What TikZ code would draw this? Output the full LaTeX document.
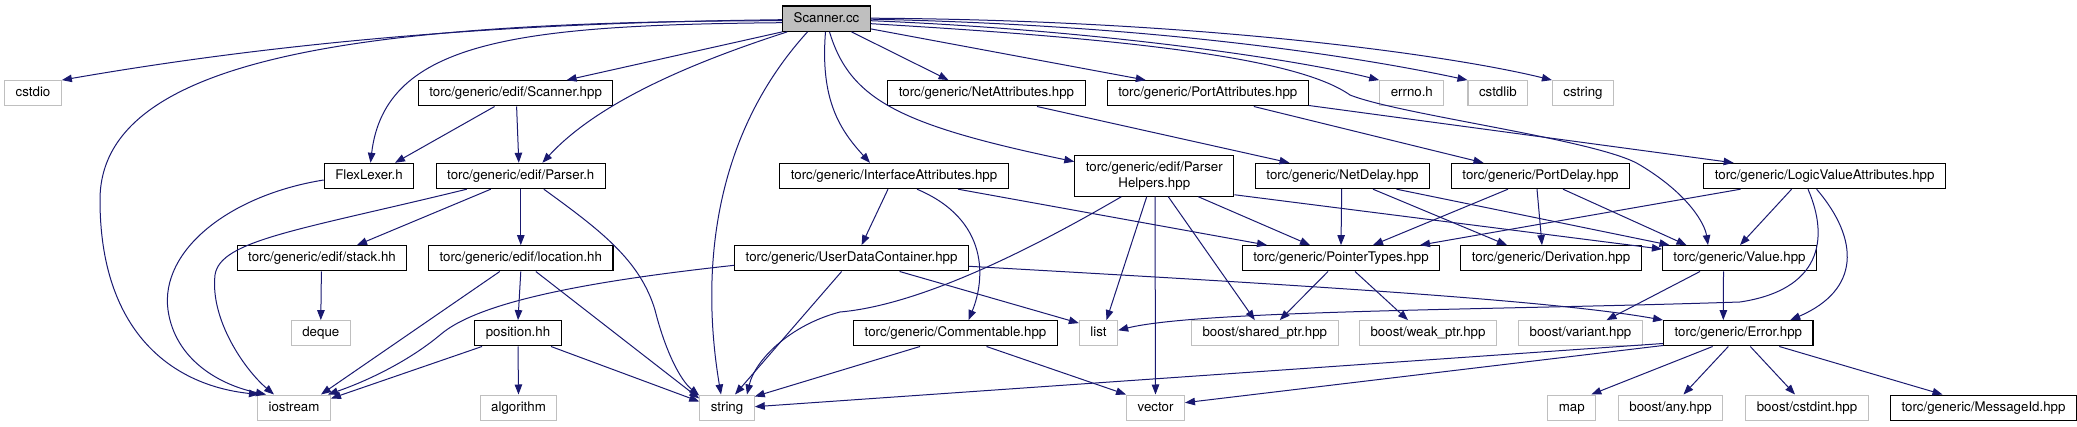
\documentclass[tikz,border=0pt]{standalone}
\usepackage{fontspec}
\setmainfont{TeX Gyre Heros}
\usetikzlibrary{arrows.meta}
\definecolor{incblue}{HTML}{191970}
\definecolor{sysgray}{HTML}{BFBFBF}

\begin{document}
\begin{tikzpicture}[
x=1pt, y=-1pt,
base/.style={line width=1.1pt, inner xsep=11pt, font=\fontsize{13.3}{16}\selectfont},
box/.style={base, draw=black, minimum height=25.3pt, inner ysep=0pt, text height=9.6pt, text depth=2.8pt},
sysbox/.style={box, draw=sysgray},
inc/.style={-{Triangle[length=10pt, width=7.5pt]}, draw=incblue, line width=1pt},
]
\useasboundingbox (0,0) rectangle (2077,427);

% Source file
\node[box, fill=sysgray] (scc) at (826.5,18.7) {Scanner.cc};

% Row 1
\node[sysbox] (cstdio) at (33,93.3) {cstdio};
\node[box] (shpp) at (515.6,93.3) {torc/generic/edif/Scanner.hpp};
\node[box] (netattr) at (986.5,93.3) {torc/generic/NetAttributes.hpp};
\node[box] (portattr) at (1207.8,93.3) {torc/generic/PortAttributes.hpp};
\node[sysbox] (errno) at (1411.8,93.3) {errno.h};
\node[sysbox] (cstdlib) at (1497.8,93.3) {cstdlib};
\node[sysbox] (cstring) at (1583,93.3) {cstring};

% Row 2
\node[box] (flex) at (369,176) {FlexLexer.h};
\node[box] (parser) at (520.8,176) {torc/generic/edif/Parser.h};
\node[box] (iface) at (894,176) {torc/generic/InterfaceAttributes.hpp};
\node[base, draw=black, align=center, inner ysep=6pt, minimum height=41pt] (phelp) at (1154.3,175.7) {torc/generic/edif/Parser\\Helpers.hpp};
\node[box] (netdelay) at (1342.5,176) {torc/generic/NetDelay.hpp};
\node[box] (portdelay) at (1540.5,176) {torc/generic/PortDelay.hpp};
\node[box] (lva) at (1824.6,176) {torc/generic/LogicValueAttributes.hpp};

% Row 3
\node[box] (stack) at (322,258.3) {torc/generic/edif/stack.hh};
\node[box] (location) at (520.8,258.3) {torc/generic/edif/location.hh};
\node[box] (udc) at (851.6,258.3) {torc/generic/UserDataContainer.hpp};
\node[box] (ptr) at (1341,258.3) {torc/generic/PointerTypes.hpp};
\node[box] (deriv) at (1551,258.3) {torc/generic/Derivation.hpp};
\node[box] (value) at (1739.5,258.3) {torc/generic/Value.hpp};

% Row 4
\node[sysbox] (deque) at (320.8,333.3) {deque};
\node[box] (position) at (518,333.3) {position.hh};
\node[box] (comment) at (955.5,333.3) {torc/generic/Commentable.hpp};
\node[sysbox] (list) at (1098.5,333.3) {list};
\node[sysbox] (shared) at (1264.8,333.3) {boost/shared\_ptr.hpp};
\node[sysbox] (weak) at (1428,333.3) {boost/weak\_ptr.hpp};
\node[sysbox] (variant) at (1580.5,333.3) {boost/variant.hpp};
\node[box] (error) at (1738.3,333.3) {torc/generic/Error.hpp};

% Row 5
\node[sysbox] (iostream) at (294,407.7) {iostream};
\node[sysbox] (algorithm) at (518.5,407.7) {algorithm};
\node[sysbox] (string) at (727,407.7) {string};
\node[sysbox] (vector) at (1155.5,407.7) {vector};
\node[sysbox] (map) at (1571.8,407.7) {map};
\node[sysbox] (any) at (1670.5,407.7) {boost/any.hpp};
\node[sysbox] (cstdint) at (1807,407.7) {boost/cstdint.hpp};
\node[box] (msgid) at (1983.5,407.7) {torc/generic/MessageId.hpp};

% Includes of Scanner.cc
\draw[inc] ([yshift=-1pt]scc.west) .. controls (600,22) and (350,30) .. (cstdio.north east);
\draw[inc] ([yshift=-2pt]scc.west) .. controls (350,21) and (100,60) .. (100,200) .. controls (100,330) and (170,385) .. ([xshift=-35pt]iostream.north);
\draw[inc] ([yshift=-4pt]scc.west) .. controls (520,25) and (385,40) .. ([xshift=1.5pt]flex.north);
\draw[inc] (scc.south west) -- ([xshift=51pt]shpp.north);
\draw[inc] ([xshift=5pt]scc.south west) .. controls (700,60) and (600,100) .. ([xshift=21.6pt]parser.north);
\draw[inc] ([xshift=-19pt]scc.south) .. controls (700,150) and (705,300) .. ([xshift=-6pt]string.north);
\draw[inc] ([xshift=-1pt]scc.south) .. controls (820,100) and (840,130) .. ([xshift=-24pt]iface.north);
\draw[inc] ([xshift=3pt]scc.south) .. controls (850,100) and (900,125) .. ([yshift=-7pt]phelp.north west);
\draw[inc] ([xshift=25pt]scc.south) -- ([xshift=-38pt]netattr.north);
\draw[inc] ([yshift=3pt]scc.south east) -- ([xshift=-62pt]portattr.north);
\draw[inc] ([yshift=-2pt]scc.east) .. controls (1100,30) and (1300,60) .. (errno.north west);
\draw[inc] ([yshift=-0.5pt]scc.east) .. controls (1150,25) and (1350,55) .. (cstdlib.north west);
\draw[inc] ([yshift=0.5pt]scc.east) .. controls (1200,20) and (1450,55) .. (cstring.north west);
\draw[inc] ([yshift=-5pt]scc.east) .. controls (1150,40) and (1300,60) .. (1350,95) .. controls (1400,115) and (1600,140) .. (1640,165) .. controls (1690,195) and (1705,225) .. ([xshift=-31.5pt]value.north);

% Row 1 includes
\draw[inc] ([xshift=-21pt]shpp.south) -- ([xshift=26pt]flex.north);
\draw[inc] ([xshift=1pt]shpp.south) -- ([xshift=-2pt]parser.north);
\draw[inc] ([xshift=50.5pt]netattr.south) -- ([xshift=-53pt]netdelay.north);
\draw[inc] ([xshift=46pt]portattr.south) -- ([xshift=-57pt]portdelay.north);
\draw[inc] ([yshift=1pt]portattr.south east) -- ([xshift=-91pt]lva.north);

% Row 2 includes
\draw[inc] ([yshift=-4pt]flex.west) .. controls (230,195) and (160,250) .. (168,310) .. controls (175,360) and (220,385) .. ([xshift=-28pt]iostream.north);
\draw[inc] ([xshift=-54pt]parser.south) .. controls (300,230) and (220,240) .. (215,275) .. controls (210,320) and (245,370) .. ([xshift=-20pt]iostream.north);
\draw[inc] ([xshift=-30pt]parser.south) -- ([xshift=35pt]stack.north);
\draw[inc] (parser.south) -- (location.north);
\draw[inc] ([xshift=23pt]parser.south) .. controls (600,230) and (640,260) .. (655,310) .. controls (665,350) and (680,380) .. ([yshift=-1pt]string.north west);
\draw[inc] ([xshift=-6pt]iface.south) -- ([xshift=10pt]udc.north);
\draw[inc] ([xshift=23pt]iface.south) .. controls (990,220) and (985,280) .. ([xshift=13pt]comment.north);
\draw[inc] ([xshift=64pt]iface.south) -- ([xshift=-74pt]ptr.north);
\draw[inc] ([xshift=-33pt]phelp.south) .. controls (1030,250) and (920,305) .. (840,312) .. controls (790,325) and (755,360) .. ([xshift=20pt]string.north);
\draw[inc] ([xshift=-7.6pt]phelp.south) -- ([xshift=8pt]list.north);
\draw[inc] ([xshift=0.7pt]phelp.south) -- (vector.north);
\draw[inc] ([xshift=14pt]phelp.south) -- ([xshift=-10pt]shared.north);
\draw[inc] ([xshift=44pt]phelp.south) -- ([xshift=-31pt]ptr.north);
\draw[inc] ([yshift=2pt]phelp.south east) -- ([yshift=-4pt]value.north west);
\draw[inc] ([xshift=-0.8pt]netdelay.south) -- (ptr.north);
\draw[inc] ([xshift=30.5pt]netdelay.south) -- ([xshift=-44pt]deriv.north);
\draw[inc] ([xshift=54pt]netdelay.south) -- ([xshift=-70pt]value.north);
\draw[inc] ([xshift=-32.5pt]portdelay.south) -- ([xshift=32pt]ptr.north);
\draw[inc] ([xshift=-3.5pt]portdelay.south) -- ([xshift=-9pt]deriv.north);
\draw[inc] ([xshift=22.5pt]portdelay.south) -- ([xshift=-53pt]value.north);
\draw[inc] ([xshift=-84pt]lva.south) -- ([xshift=79pt]ptr.north);
\draw[inc] ([xshift=-33pt]lva.south) -- ([xshift=0.5pt]value.north);
\draw[inc] ([xshift=-16.6pt]lva.south) .. controls (1830,240) and (1820,290) .. (1740,302) .. controls (1500,310) and (1200,310) .. ([yshift=3pt]list.east);
\draw[inc] ([xshift=-8pt]lva.south) .. controls (1860,240) and (1860,290) .. ([xshift=52pt]error.north);

% Row 3 includes
\draw[inc] ([xshift=-0.6pt]stack.south) -- (deque.north);
\draw[inc] (location.south) -- (position.north);
\draw[inc] ([xshift=-21pt]location.south) -- ([xshift=27pt]iostream.north);
\draw[inc] ([xshift=15pt]location.south) -- ([yshift=-4pt]string.north west);
\draw[inc] ([yshift=-7pt]udc.west) .. controls (600,280) and (480,300) .. (440,335) .. controls (410,360) and (370,380) .. ([xshift=-3pt]iostream.north east);
\draw[inc] ([xshift=-10pt]udc.south) -- ([xshift=8pt]string.north);
\draw[inc] ([xshift=48pt]udc.south) -- ([yshift=-3pt]list.north west);
\draw[inc] ([yshift=-8pt]udc.east) .. controls (1300,285) and (1550,300) .. (error.north west);
\draw[inc] ([xshift=-13pt]ptr.south) -- ([xshift=15pt]shared.north);
\draw[inc] ([xshift=14pt]ptr.south) -- ([xshift=-20pt]weak.north);
\draw[inc] ([xshift=-39.5pt]value.south) -- ([xshift=26pt]variant.north);
\draw[inc] ([xshift=-16pt]value.south) -- ([xshift=-15pt]error.north);

% Row 4 includes
\draw[inc] ([xshift=-36pt]position.south) -- ([yshift=-4pt]iostream.north east);
\draw[inc] (position.south) -- (algorithm.north);
\draw[inc] ([xshift=33pt]position.south) -- ([yshift=-7pt]string.north west);
\draw[inc] ([xshift=-35.5pt]comment.south) -- ([yshift=-2pt]string.north east);
\draw[inc] ([xshift=31pt]comment.south) -- (vector.north west);
\draw[inc] ([yshift=3pt]error.south west) -- ([yshift=1pt]string.east);
\draw[inc] ([yshift=1pt]error.south west) -- ([yshift=5pt]vector.east);
\draw[inc] ([xshift=-25.7pt]error.south) -- ([xshift=-5pt]map.north east);
\draw[inc] ([xshift=-10pt]error.south) -- ([xshift=13pt]any.north);
\draw[inc] ([xshift=12pt]error.south) -- ([xshift=-12pt]cstdint.north);
\draw[inc] ([xshift=41pt]error.south) -- ([xshift=-41pt]msgid.north);

\end{tikzpicture}
\end{document}
